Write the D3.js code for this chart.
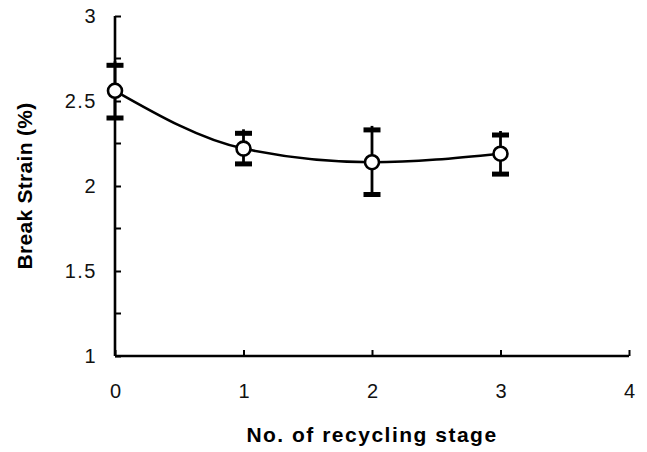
<!DOCTYPE html>
<html>
<head>
<meta charset="utf-8">
<script src="https://cdn.jsdelivr.net/npm/d3@7"></script>
<style>
  body { margin: 0; background: #fff; }
  text { font-family: "Liberation Sans", Arial, sans-serif; }
</style>
</head>
<body>
<script>
// Break strain vs. number of recycling stages
var stages = [0, 1, 2, 3];
var strain = [2.56, 2.22, 2.14, 2.19];
var upper = [2.71, 2.31, 2.33, 2.30];
var lower = [2.40, 2.13, 1.95, 2.07];
var xTicks = [0, 1, 2, 3, 4];
var yTicks = [1, 1.5, 2, 2.5, 3];
var yMinorTicks = [1.25, 1.75, 2.25, 2.75];

var margin = {top: 16, right: 18, bottom: 96, left: 115},
    width = 647 - margin.left - margin.right,
    height = 452 - margin.top - margin.bottom;

var svg = d3.select("body").append("svg")
    .attr("width", 647)
    .attr("height", 452)
    .append("g")
    .attr("transform", "translate(" + margin.left + "," + margin.top + ")");

var xScale = d3.scaleLinear().domain([0, 4]).range([0, 514]);
var yScale = d3.scaleLinear().domain([1, 3]).range([height, 0]);

// x axis, ticks pointing up into the plot
var xAxis = d3.axisBottom(xScale)
    .tickValues(xTicks)
    .tickSize(-6)
    .tickPadding(28)
    .tickFormat(d3.format("d"));

svg.append("g")
    .attr("class", "x axis")
    .attr("transform", "translate(0," + height + ")")
    .call(xAxis)
    .call(function(g) {
        g.attr("font-size", null).attr("font-family", null);
        g.select(".domain").attr("d", "M0,0H" + xScale(4))
            .attr("stroke-width", 2.6);
        g.selectAll(".tick line").attr("stroke-width", 2);
        g.selectAll(".tick text")
            .style("font-size", "20px")
            .attr("fill", "#111");
    });

// y axis, ticks pointing right into the plot
var yAxis = d3.axisLeft(yScale)
    .tickValues(yTicks)
    .tickSize(-6)
    .tickPadding(18)
    .tickFormat(function(d) { return d; });

svg.append("g")
    .attr("class", "y axis")
    .call(yAxis)
    .call(function(g) {
        g.attr("font-size", null).attr("font-family", null);
        g.select(".domain").attr("d", "M0," + height + "V0")
            .attr("stroke-width", 2.6);
        g.selectAll(".tick line").attr("stroke-width", 2);
        g.selectAll(".tick text")
            .style("font-size", "20px")
            .attr("letter-spacing", "1.5px")
            .attr("fill", "#111");
    });

svg.append("g")
    .selectAll("line")
    .data(yMinorTicks)
    .enter()
    .append("line")
    .attr("x1", 0)
    .attr("x2", 6)
    .attr("y1", function(d) { return yScale(d); })
    .attr("y2", function(d) { return yScale(d); })
    .attr("stroke", "#000")
    .attr("stroke-width", 2);

var data = stages.map(function(s, i) {
    return {x: s, y: strain[i], hi: upper[i], lo: lower[i]};
});

// smooth connecting line
var line = d3.line()
    .x(function(d) { return xScale(d.x); })
    .y(function(d) { return yScale(d.y); })
    .curve(d3.curveMonotoneX);

svg.append("path")
    .datum(data)
    .attr("d", line)
    .attr("fill", "none")
    .attr("stroke", "#000")
    .attr("stroke-width", 2.6);

// error bars
var err = svg.append("g").selectAll("g")
    .data(data)
    .enter()
    .append("g");

err.append("line")
    .attr("x1", function(d) { return xScale(d.x); })
    .attr("x2", function(d) { return xScale(d.x); })
    .attr("y1", function(d) { return yScale(d.hi) - 4; })
    .attr("y2", function(d) { return yScale(d.lo); })
    .attr("stroke", "#000")
    .attr("stroke-width", 2.8);

err.selectAll("rect")
    .data(function(d) { return [d.hi, d.lo].map(function(v) {
        return {x: d.x, v: v};
    }); })
    .enter()
    .append("rect")
    .attr("x", function(d) { return xScale(d.x) - 8.5; })
    .attr("y", function(d) { return yScale(d.v) - 2.5; })
    .attr("width", 17)
    .attr("height", 5)
    .attr("fill", "#000");

// open circle markers
svg.selectAll("circle")
    .data(data)
    .enter()
    .append("circle")
    .attr("cx", function(d) { return xScale(d.x); })
    .attr("cy", function(d) { return yScale(d.y); })
    .attr("r", 7)
    .attr("fill", "#fff")
    .attr("stroke", "#000")
    .attr("stroke-width", 2.6);

// axis titles
svg.append("text")
    .attr("x", xScale(2))
    .attr("y", height + 86)
    .style("text-anchor", "middle")
    .style("font-size", "21px")
    .attr("letter-spacing", "1.5px")
    .attr("font-weight", "bold")
    .text("No. of recycling stage");

svg.append("text")
    .attr("transform", "rotate(-90)")
    .attr("x", 0 - yScale(2))
    .attr("y", -83)
    .style("text-anchor", "middle")
    .style("font-size", "21px")
    .attr("letter-spacing", "0.3px")
    .attr("font-weight", "bold")
    .text("Break Strain (%)");
</script>
</body>
</html>
